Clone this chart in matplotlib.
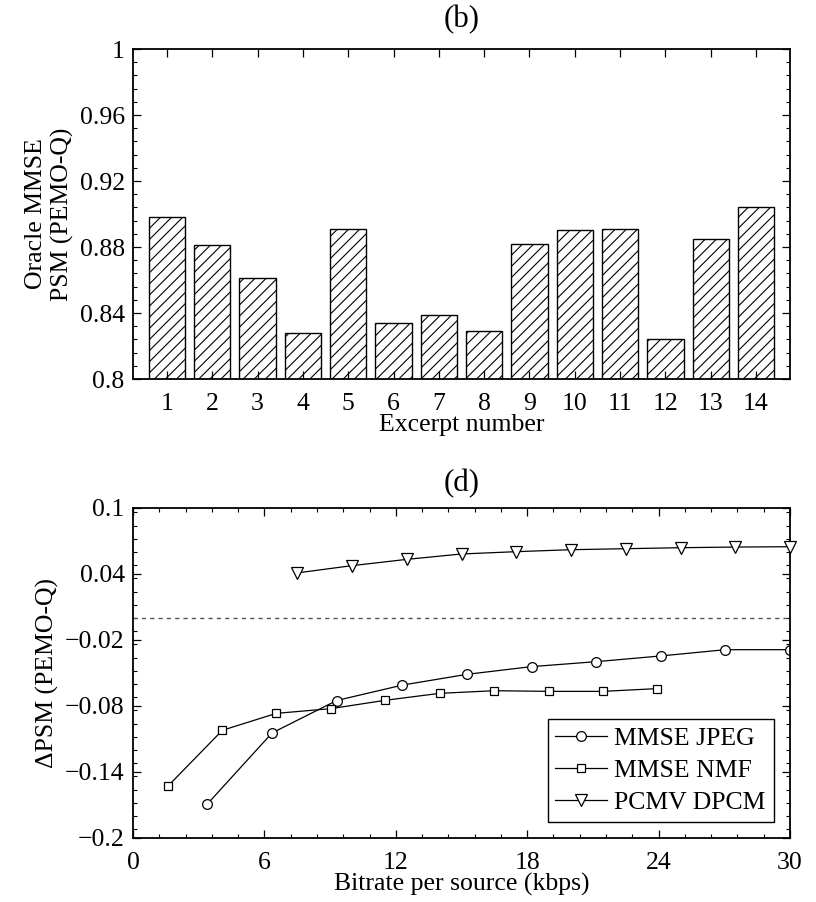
import matplotlib
matplotlib.use("Agg")
import matplotlib.pyplot as plt
import numpy as np
from matplotlib.ticker import MultipleLocator, FixedLocator

plt.rcParams['font.family'] = ['Liberation Serif', 'DejaVu Serif']
plt.rcParams['font.size'] = 18.5
plt.rcParams['hatch.linewidth'] = 0.8
plt.rcParams['axes.unicode_minus'] = True

# ---- data (b) ----
excerpts = list(range(1, 15))
oracle_psm = [0.898, 0.881, 0.861, 0.828, 0.891, 0.834, 0.8385,
              0.829, 0.882, 0.8905, 0.891, 0.824, 0.885, 0.904]

# ---- data (d) ----
jpeg_x = [3.4, 6.35, 9.3, 12.3, 15.25, 18.2, 21.15, 24.1, 27.05, 30.0]
jpeg_y = [-0.169, -0.1045, -0.075, -0.061, -0.0512, -0.0442, -0.0397, -0.0345, -0.0288, -0.0288]
nmf_x = [1.6, 4.08, 6.54, 9.04, 11.52, 14.0, 16.5, 18.98, 21.45, 23.93]
nmf_y = [-0.1527, -0.1021, -0.0867, -0.0824, -0.0748, -0.0685, -0.0661, -0.0667, -0.0667, -0.0642]
dpcm_x = [7.5, 10.0, 12.5, 15.0, 17.5, 20.0, 22.5, 25.0, 27.5, 30.0]
dpcm_y = [0.041, 0.0476, 0.0533, 0.0582, 0.0603, 0.0621, 0.063, 0.0639, 0.0645, 0.0648]

W, H = 816, 902
fig = plt.figure(figsize=(W / 100, H / 100), dpi=100)

def frac(l, t, r, b):
    return [l / W, (H - b) / H, (r - l) / W, (b - t) / H]

# ---------- top (b) ----------
ax1 = fig.add_axes(frac(133, 49, 790, 379))
ax1.bar(excerpts, oracle_psm, width=0.8, bottom=0, color='white',
        edgecolor='black', linewidth=1.0, hatch='///')
ax1.set_xlim(0.25, 14.75)
ax1.set_ylim(0.8, 1.0)
ax1.set_xticks(excerpts)
ax1.set_yticks([0.8, 0.84, 0.88, 0.92, 0.96, 1.0])
ax1.set_yticklabels(['0.8', '0.84', '0.88', '0.92', '0.96', '1'])
ax1.yaxis.set_minor_locator(MultipleLocator(0.008))
ax1.tick_params(which='both', direction='in', top=True, right=True)
ax1.tick_params(which='major', length=6, width=0.9, pad=6)
ax1.tick_params(axis='x', which='major', pad=10)
ax1.tick_params(which='minor', length=3, width=0.8)
ax1.tick_params(axis='x', which='minor', top=False, bottom=False)
ax1.set_xlabel('Excerpt number', labelpad=-1)
ax1.set_ylabel('Oracle MMSE\nPSM (PEMO-Q)', labelpad=4, linespacing=1.2)
ax1.set_title('(b)', pad=16)
for s in ax1.spines.values():
    s.set_linewidth(1.3)

# ---------- bottom (d) ----------
ax2 = fig.add_axes(frac(133, 508, 790, 838))
ax2.axhline(0.0, color='#555555', linestyle=(0, (3, 3)), linewidth=1.0)
ax2.plot(jpeg_x, jpeg_y, color='black', linewidth=0.9, marker='o',
         markersize=7, markerfacecolor='white', markeredgecolor='black',
         markeredgewidth=0.9, label='MMSE JPEG')
ax2.plot(nmf_x, nmf_y, color='black', linewidth=0.9, marker='s',
         markersize=6, markerfacecolor='white', markeredgecolor='black',
         markeredgewidth=0.9, label='MMSE NMF')
ax2.plot(dpcm_x, dpcm_y, color='black', linewidth=0.9, marker='v',
         markersize=8, markerfacecolor='white', markeredgecolor='black',
         markeredgewidth=0.9, label='PCMV DPCM', clip_on=False, zorder=5)
ax2.set_xlim(0, 30)
ax2.set_ylim(-0.2, 0.1)
ax2.set_xticks([0, 6, 12, 18, 24, 30])
ax2.set_yticks([-0.2, -0.14, -0.08, -0.02, 0.04, 0.1])
ax2.set_yticklabels(['\u22120.2', '\u22120.14', '\u22120.08', '\u22120.02', '0.04', '0.1'])
ax2.xaxis.set_minor_locator(MultipleLocator(1.2))
ax2.yaxis.set_minor_locator(MultipleLocator(0.012))
ax2.tick_params(which='both', direction='in', top=True, right=True)
ax2.tick_params(which='major', length=6, width=0.9, pad=6)
ax2.tick_params(axis='x', which='major', pad=10)
ax2.tick_params(which='minor', length=3, width=0.8)
ax2.set_xlabel('Bitrate per source (kbps)', labelpad=-1)
ax2.set_ylabel('\u0394PSM (PEMO-Q)', labelpad=4)
ax2.set_title('(d)', pad=12)
for s in ax2.spines.values():
    s.set_linewidth(1.3)
leg = ax2.legend(loc='lower right', bbox_to_anchor=(0.975, 0.05),
                 fancybox=False, edgecolor='black', framealpha=1,
                 handlelength=2.0, handletextpad=0.3, borderpad=0.3,
                 labelspacing=0.35, borderaxespad=0)
leg.get_frame().set_linewidth(1.0)

fig.savefig('out.png', dpi=100)
